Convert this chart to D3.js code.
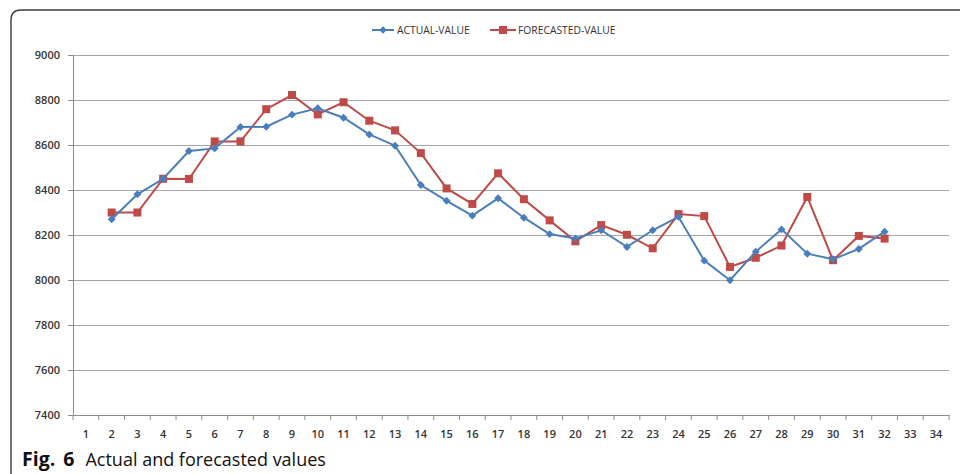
<!DOCTYPE html>
<html>
<head>
<meta charset="utf-8">
<script src="https://cdn.jsdelivr.net/npm/d3@7"></script>
<style>
  html, body { margin: 0; padding: 0; background: #fff; }
  svg { display: block; }
</style>
</head>
<body>
<svg id="chart" width="960" height="474"></svg>
<script>
// Periods shown on the category axis
const periods = d3.range(1, 35);
// Observed series (periods 2-32)
const actualPeriods = d3.range(2, 33);
const actualValues = [8270, 8381, 8450, 8573, 8585, 8680, 8681, 8735, 8763, 8721,
  8647, 8597, 8422, 8352, 8286, 8363, 8277, 8204, 8185, 8221, 8147, 8221, 8281,
  8086, 7999, 8126, 8225, 8117, 8092, 8138, 8215];
// Forecast series (periods 2-32)
const forecastValues = [8300, 8300, 8450, 8449, 8616, 8616, 8759, 8822, 8736, 8790,
  8708, 8665, 8564, 8407, 8338, 8474, 8359, 8265, 8172, 8244, 8201, 8141, 8293,
  8284, 8058, 8099, 8153, 8369, 8088, 8196, 8184];
const yTicks = [7400, 7600, 7800, 8000, 8200, 8400, 8600, 8800, 9000];
const seriesNames = ["ACTUAL-VALUE", "FORECASTED-VALUE"];
const seriesColors = ["#4a7ebb", "#be4b48"];

const svg = d3.select("#chart");
const plotLeft = 73, plotRight = 949, plotTop = 55, plotBottom = 415;

// Rounded frame around the chart area (open at right and bottom)
svg.append("path")
  .attr("d", `M11,474 L11,20 Q11,10 21,10 L962,10`)
  .attr("fill", "none")
  .attr("stroke", "#3a3a3a")
  .attr("stroke-width", 1.4);

const x = d3.scaleBand().domain(periods).range([plotLeft, plotRight]);
const y = d3.scaleLinear().domain([7400, 9000]).range([plotBottom, plotTop]);
const cx = p => x(p) + x.bandwidth() / 2;

// Horizontal gridlines
svg.append("g")
  .attr("transform", `translate(${plotLeft},0)`)
  .call(d3.axisLeft(y).tickValues(yTicks.slice(1)).tickSize(-(plotRight - plotLeft)).tickFormat(""))
  .call(g => g.select(".domain").remove())
  .call(g => g.selectAll("line").attr("stroke", "#a6a6a6").attr("stroke-width", 1.2));

// Y axis
svg.append("g")
  .attr("transform", `translate(${plotLeft},0)`)
  .call(d3.axisLeft(y).tickValues(yTicks).tickSize(5).tickPadding(8).tickFormat(d3.format("d")))
  .call(g => g.select(".domain").attr("stroke", "#8c8c8c"))
  .call(g => g.selectAll("line").attr("stroke", "#8c8c8c"))
  .call(g => g.selectAll("text").attr("fill", "#333").attr("font-family", "Open Sans")
    .attr("font-size", 11).attr("font-weight", 600));

// X axis with ticks between categories
const xAxis = svg.append("g").attr("transform", `translate(0,${plotBottom})`);
xAxis.call(d3.axisBottom(x).tickSize(0).tickPadding(15))
  .call(g => g.select(".domain").attr("stroke", "#8c8c8c").attr("stroke-width", 1.2))
  .call(g => g.selectAll("text").attr("fill", "#333").attr("font-family", "Open Sans")
    .attr("font-size", 11).attr("font-weight", 600));
xAxis.selectAll(".sep")
  .data(periods.map(p => x(p)).concat([x(periods[periods.length - 1]) + x.bandwidth()]))
  .join("line")
  .attr("class", "sep")
  .attr("x1", d => d).attr("x2", d => d)
  .attr("y1", 0).attr("y2", 5)
  .attr("stroke", "#8c8c8c");

const line = d3.line().x(d => cx(d[0])).y(d => y(d[1]));
const actual = actualPeriods.map((p, i) => [p, actualValues[i]]);
const forecast = actualPeriods.map((p, i) => [p, forecastValues[i]]);

// Forecast series (squares)
svg.append("path").datum(forecast).attr("d", line)
  .attr("fill", "none").attr("stroke", seriesColors[1]).attr("stroke-width", 2);
svg.append("g").selectAll("rect").data(forecast).join("rect")
  .attr("x", d => cx(d[0]) - 4).attr("y", d => y(d[1]) - 4)
  .attr("width", 8).attr("height", 8)
  .attr("fill", seriesColors[1]);

// Actual series (diamonds)
svg.append("path").datum(actual).attr("d", line)
  .attr("fill", "none").attr("stroke", seriesColors[0]).attr("stroke-width", 2);
svg.append("g").selectAll("path").data(actual).join("path")
  .attr("d", d3.symbol(d3.symbolDiamond2, 40))
  .attr("transform", d => `translate(${cx(d[0])},${y(d[1])})`)
  .attr("fill", seriesColors[0]);

// Legend
const legend = svg.append("g").attr("font-family", "Open Sans").attr("font-size", 10.3)
  .attr("fill", "#333");
const lg = [
  { x0: 372, x1: 394, tx: 397 },
  { x0: 490, x1: 516, tx: 518 }
];
lg.forEach((l, i) => {
  const g = legend.append("g");
  g.append("line").attr("x1", l.x0).attr("x2", l.x1).attr("y1", 30).attr("y2", 30)
    .attr("stroke", seriesColors[i]).attr("stroke-width", 2);
  const mx = (l.x0 + l.x1) / 2;
  if (i === 0) {
    g.append("path").attr("d", d3.symbol(d3.symbolDiamond2, 36))
      .attr("transform", `translate(${mx},30)`).attr("fill", seriesColors[0]);
  } else {
    g.append("rect").attr("x", mx - 4).attr("y", 26).attr("width", 8).attr("height", 8)
      .attr("fill", seriesColors[1]);
  }
  g.append("text").attr("x", l.tx).attr("y", 33.8).text(seriesNames[i]);
});

// Caption
const cap = svg.append("text").attr("x", 22).attr("y", 466)
  .attr("font-family", "Open Sans").attr("fill", "#111");
cap.append("tspan").attr("font-weight", 700).attr("font-size", 19.5)
  .attr("word-spacing", 3).text("Fig. 6");
cap.append("tspan").attr("dx", 11).attr("font-size", 18).text("Actual and forecasted values");
</script>
</body>
</html>
